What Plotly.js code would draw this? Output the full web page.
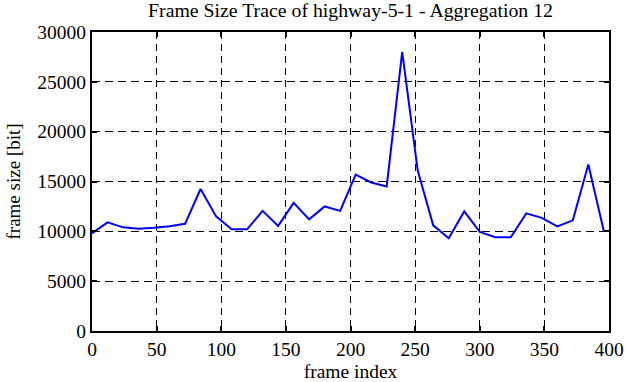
<!DOCTYPE html>
<html>
<head>
<meta charset="utf-8">
<script src="https://cdn.plot.ly/plotly-3.0.1.min.js"></script>
<style>html,body{margin:0;padding:0;background:#fff;}#chart{width:626px;height:382px;}</style>
</head>
<body>
<div id="chart"></div>
<script>
const frameIndex = [0,12,24,36,48,60,72,84,96,108,120,132,144,156,168,180,192,204,216,228,240,252,264,276,288,300,312,324,336,348,360,372,384,396];
const frameSize = [9800,10900,10400,10250,10350,10500,10750,14250,11500,10200,10200,12050,10550,12850,11200,12500,12050,15700,14900,14500,28000,16100,10600,9300,12000,9950,9400,9400,11800,11350,10500,11100,16700,10000];
const xTicks = [0,50,100,150,200,250,300,350,400];
const yTicks = [0,5000,10000,15000,20000,25000,30000];

const font = 'Liberation Serif';
Plotly.newPlot('chart', [{
  x: frameIndex, y: frameSize, type: 'scatter', mode: 'lines',
  line: {color: '#0000ff', width: 2}
}], {
  width: 626, height: 382,
  margin: {l: 92, r: 17, t: 32, b: 51},
  paper_bgcolor: '#fff', plot_bgcolor: '#fff',
  showlegend: false,
  font: {family: font, color: '#000', size: 19.5},
  title: {text: 'Frame Size Trace of highway-5-1 - Aggregation 12', font: {family: font, size: 19.8, color: '#000'}, x: 0.56, xanchor: 'center', y: 0.974, yanchor: 'middle'},
  xaxis: {
    range: [0, 400], tickvals: xTicks, ticktext: xTicks.map(String),
    showgrid: true, gridcolor: '#000', griddash: '7px,5px', gridwidth: 1,
    showline: true, linecolor: '#000', linewidth: 2, mirror: 'ticks',
    ticks: 'inside', ticklen: 5, tickwidth: 2, tickcolor: '#000',
    zeroline: false,
    tickfont: {family: font, size: 19.5},
    title: {text: 'frame index', font: {family: font, size: 19.5}, standoff: 8}
  },
  yaxis: {
    range: [0, 30000], tickvals: yTicks, ticktext: yTicks.map(String),
    showgrid: true, gridcolor: '#000', griddash: '8px,5px', gridwidth: 1,
    showline: true, linecolor: '#000', linewidth: 2, mirror: 'ticks',
    ticks: 'inside', ticklen: 5, tickwidth: 2, tickcolor: '#000',
    zeroline: false,
    tickfont: {family: font, size: 19.5},
    title: {text: 'frame size [bit]', font: {family: font, size: 19}, standoff: 12}
  }
}, {staticPlot: true, displayModeBar: false});
</script>
</body>
</html>
